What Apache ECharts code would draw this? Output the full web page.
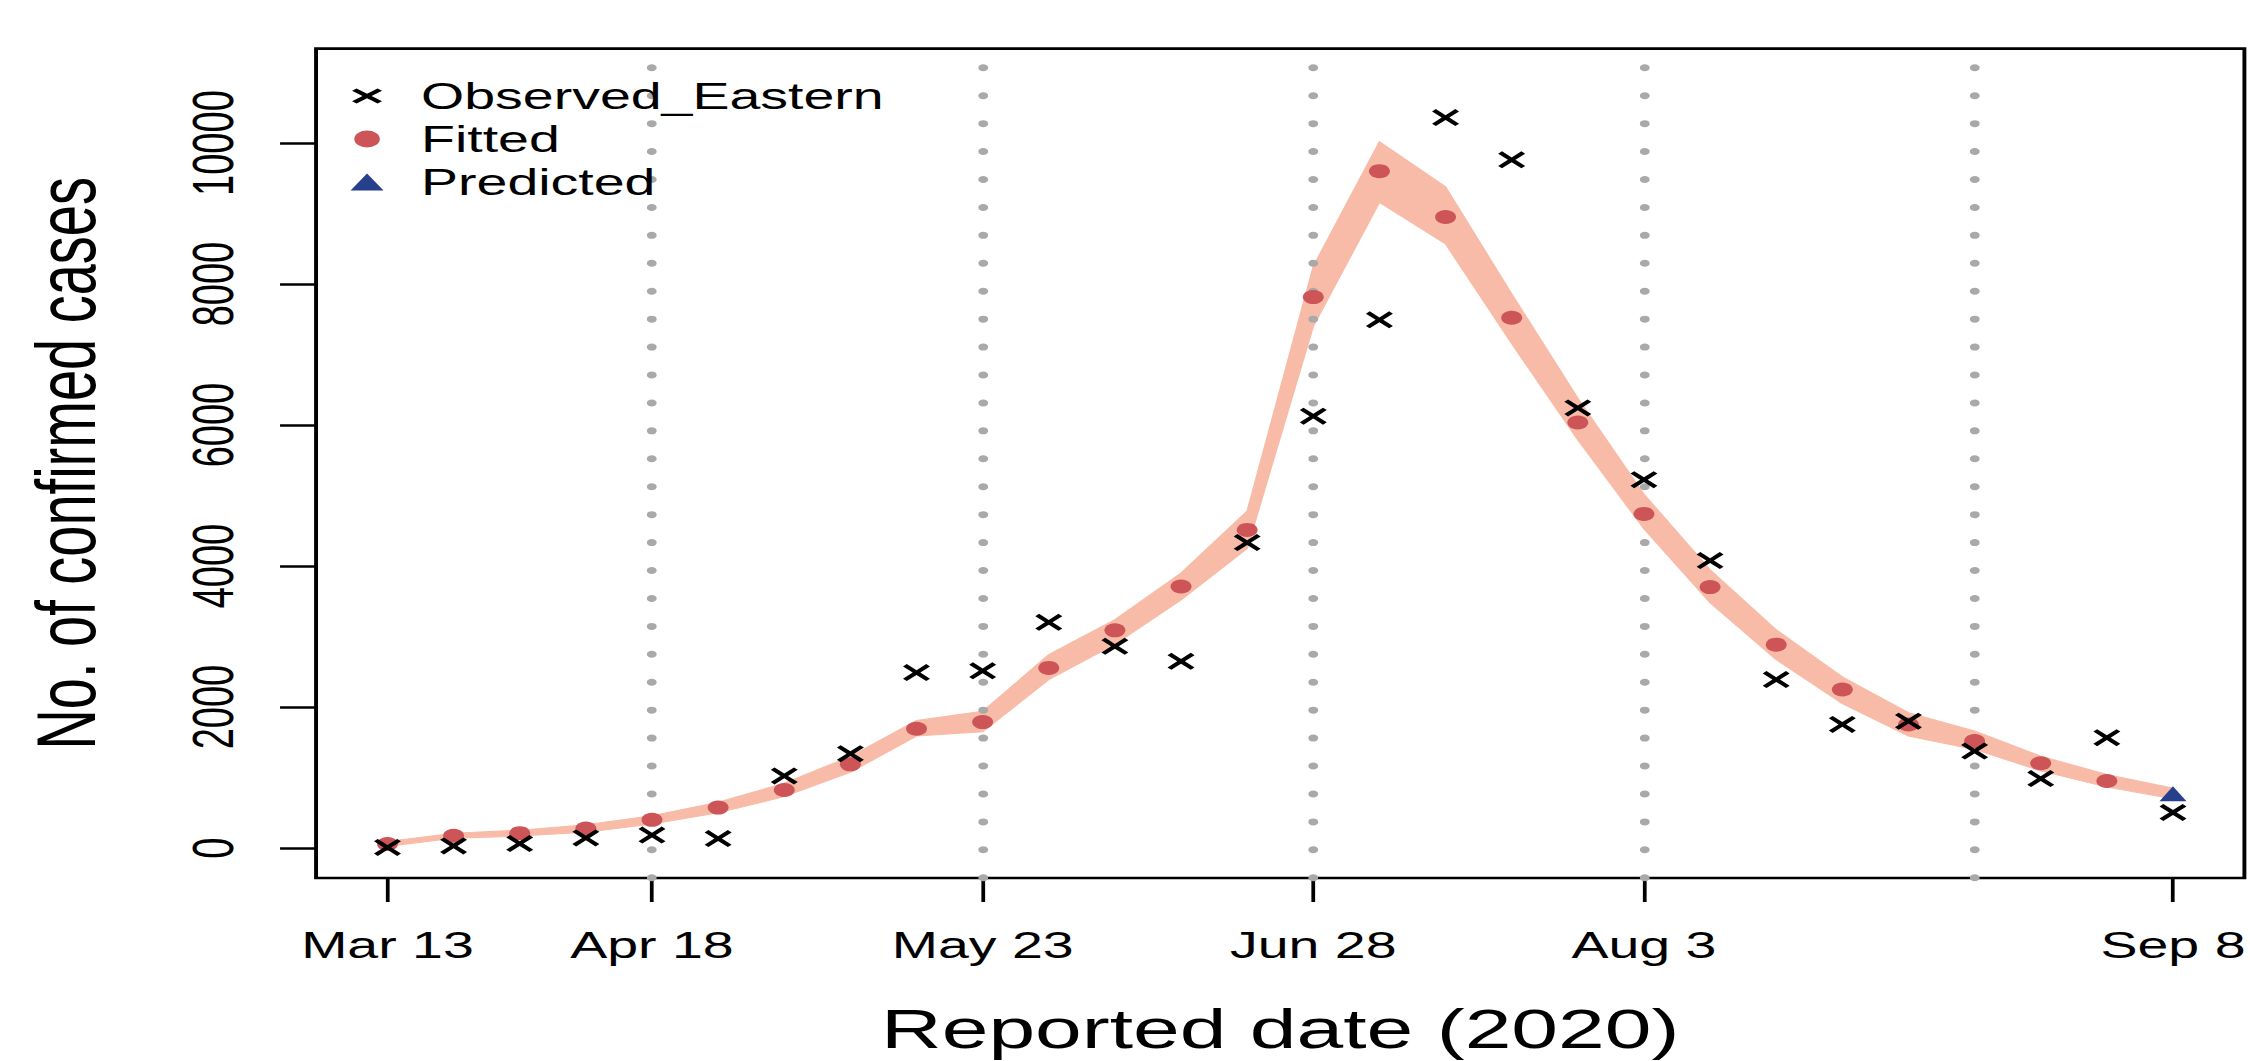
<!DOCTYPE html>
<html>
<head>
<meta charset="utf-8">
<script src="https://cdn.jsdelivr.net/npm/echarts@6/dist/echarts.min.js"></script>
<style>
html, body { margin: 0; padding: 0; background: #ffffff; overflow: hidden; }
#wrap { width: 2250px; height: 1061px; overflow: hidden; position: relative; }
#chart { width: 1500px; height: 1061px; transform: scaleX(1.5); transform-origin: 0 0; }
</style>
</head>
<body>
<div id="wrap"><div id="chart"></div></div>
<script>
// ---- data (weekly points, index 0 = Mar 13, index 27 = Sep 8) ----
const tickIndex  = [0, 4, 9, 14, 19, 27];
const tickLabels = ['Mar 13', 'Apr 18', 'May 23', 'Jun 28', 'Aug 3', 'Sep 8'];
const guideIndex = [4, 9, 14, 19, 24];
const yTicks = [0, 2000, 4000, 6000, 8000, 10000];

const observed = [10, 30, 65, 145, 185, 135, 1023, 1340, 2490, 2515, 3202, 2863, 2650, 4334,
                  6126, 7494, 10361, 9762, 6244, 5225, 4079, 2391, 1754, 1801, 1377, 986, 1566, 505];
const fitted = [57, 174, 212, 278, 401, 575, 825, 1188, 1693, 1787, 2556, 3089, 3711, 4513,
                7815, 9602, 8951, 7522, 6037, 4740, 3702, 2886, 2250, 1754, 1518, 1203, 952];
const predictedIndex = 27;
const predicted = 770;
const bandLower = [25, 140, 170, 225, 340, 500, 730, 1075, 1590, 1650, 2390, 2890, 3520, 4250,
                   7400, 9160, 8570, 7155, 5790, 4530, 3480, 2674, 2050, 1590, 1400, 1095, 865, 700];
const bandUpper = [95, 210, 255, 330, 460, 650, 920, 1300, 1810, 1940, 2745, 3240, 3900, 4780,
                   8250, 10020, 9380, 7860, 6380, 5020, 3947, 3098, 2430, 1920, 1660, 1305, 1045, 850];

// ---- styling ----
const FONT = "'Liberation Sans', Arial, Helvetica, sans-serif";
const XMARK = 'path://M14,0 L50,36 L86,0 L100,14 L64,50 L100,86 L86,100 L50,64 L14,100 L0,86 L36,50 L0,14 Z';
// legend icons drawn in a 62 x 17 box (corner moves fix the box)
const LEG_X = 'path://M0,0 M62,17 M24,1 L31,6.25 L38,1 L41,3.25 L34,8.5 L41,13.75 L38,16 L31,10.75 L24,16 L21,13.75 L28,8.5 L21,3.25 Z';
const LEG_DOT = 'path://M0,0 M62,17 M22.5,8.5 A8.5,8.5 0 1,0 39.5,8.5 A8.5,8.5 0 1,0 22.5,8.5 Z';
const LEG_TRI = 'path://M0,0 M62,17 M31,0 L42,17 L20,17 Z';
const BAND = '#F8BBA7';
const RED = '#CD5558';
const BLUE = '#27408B';

const chart = echarts.init(document.getElementById('chart'), null, { renderer: 'svg' });

const option = {
  animation: false,
  backgroundColor: '#ffffff',
  textStyle: { fontFamily: FONT },
  grid: {
    left: 210.7, right: 2.7, top: 48.6, bottom: 182,
    show: true, borderColor: '#000000', borderWidth: 2.6, backgroundColor: 'transparent'
  },
  legend: {
    orient: 'vertical',
    left: 208.7, top: 69.5,
    itemWidth: 62, itemHeight: 17, itemGap: 0,
    selectedMode: false,
    textStyle: { fontFamily: FONT, fontSize: 37, color: '#000000', lineHeight: 43 },
    data: [
      { name: 'Observed_Eastern', icon: LEG_X, itemStyle: { color: '#000000' } },
      { name: 'Fitted', icon: LEG_DOT, itemStyle: { color: RED } },
      { name: 'Predicted', icon: LEG_TRI, itemStyle: { color: BLUE } }
    ]
  },
  xAxis: {
    type: 'value',
    min: -1.08, max: 28.08,
    name: 'Reported date (2020)',
    nameLocation: 'middle',
    nameGap: 122,
    nameTextStyle: { fontFamily: FONT, fontSize: 56, color: '#000000' },
    axisLine: { show: false, onZero: false },
    splitLine: { show: false },
    axisTick: { show: true, length: 24, customValues: tickIndex, lineStyle: { color: '#000000', width: 2.5 } },
    axisLabel: {
      show: true, customValues: tickIndex, margin: 48.5,
      fontFamily: FONT, fontSize: 37, color: '#000000',
      formatter: function (v) { const k = tickIndex.indexOf(Math.round(v)); return k >= 0 ? tickLabels[k] : ''; }
    }
  },
  yAxis: {
    type: 'value',
    min: -424, max: 11340,
    name: 'No. of confirmed cases',
    nameLocation: 'middle',
    nameGap: 138.7,
    nameTextStyle: { fontFamily: FONT, fontSize: 56, color: '#000000' },
    axisLine: { show: false, onZero: false },
    splitLine: { show: false },
    axisTick: { show: true, length: 24, customValues: yTicks, lineStyle: { color: '#000000', width: 2.5 } },
    axisLabel: {
      show: true, customValues: yTicks, rotate: 90, margin: 49.4,
      fontFamily: FONT, fontSize: 38, color: '#000000',
      formatter: function (v) { return String(v); }
    }
  },
  series: [
    {
      type: 'custom',
      name: 'band',
      z: 1,
      silent: true,
      encode: { x: 0, y: [1, 2] },
      data: bandLower.map(function (v, i) { return [i, v, bandUpper[i]]; }),
      renderItem: function (params, api) {
        if (params.dataIndex !== 0) return null;
        const pts = [];
        for (let i = 0; i < bandUpper.length; i++) pts.push(api.coord([i, bandUpper[i]]));
        for (let i = bandLower.length - 1; i >= 0; i--) pts.push(api.coord([i, bandLower[i]]));
        return { type: 'polygon', shape: { points: pts }, style: { fill: BAND, stroke: BAND, lineWidth: 1 } };
      }
    },
    {
      type: 'scatter',
      name: 'Fitted',
      z: 3,
      symbol: 'circle',
      symbolSize: 14,
      itemStyle: { color: RED, opacity: 1 },
      data: fitted.map(function (v, i) { return [i, v]; })
    },
    {
      type: 'scatter',
      name: 'Predicted',
      z: 3,
      symbol: 'triangle',
      symbolSize: [18, 15],
      itemStyle: { color: BLUE, opacity: 1 },
      data: [[predictedIndex, predicted]]
    },
    {
      type: 'scatter',
      name: 'Observed_Eastern',
      z: 4,
      symbol: XMARK,
      symbolSize: [18, 17],
      itemStyle: { color: '#000000', opacity: 1 },
      data: observed.map(function (v, i) { return [i, v]; }),
      markLine: {
        silent: true,
        z: 2,
        animation: false,
        symbol: ['none', 'none'],
        label: { show: false },
        emphasis: { disabled: true },
        lineStyle: { color: '#A9A9A9', width: 6.5, type: [0.5, 27.43], cap: 'round', opacity: 1 },
        data: guideIndex.map(function (v) { return { xAxis: v }; })
      }
    }
  ]
};

chart.setOption(option);
</script>
</body>
</html>
